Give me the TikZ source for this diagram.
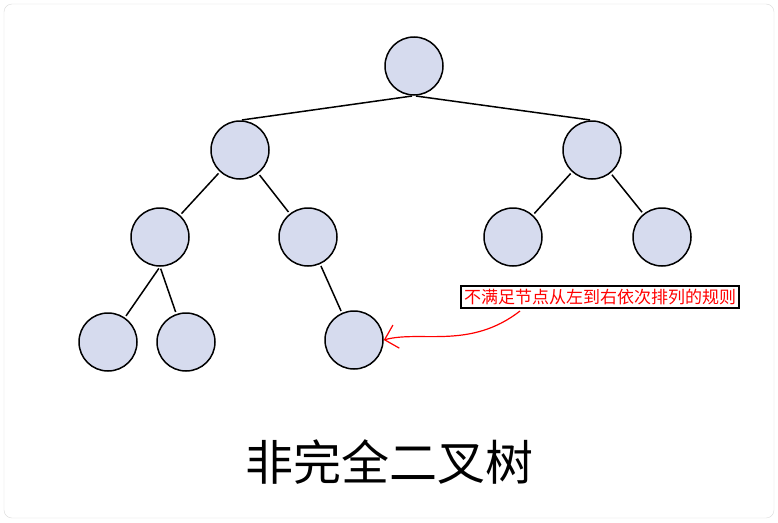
\documentclass[tikz,border=0pt]{standalone}
\usepackage{fontspec}
\setmainfont{Noto Sans CJK SC}
\usetikzlibrary{arrows.meta}
\definecolor{nodefill}{RGB}{214,219,238}
\begin{document}
\begin{tikzpicture}[x=1pt,y=-1pt,
    treenode/.style={draw, circle, line width=1.5pt, fill=nodefill, minimum size=58pt, inner sep=0pt},
    branch/.style={draw, line width=1.5pt, shorten <=2pt, shorten >=2pt}]
    \useasboundingbox (0,0) rectangle (778,522);
    \draw[gray!30, rounded corners=8pt] (4,4) rectangle (774,518);

    \node[treenode] (root) at (414,66) {};
    \node[treenode] (l) at (240,150) {};
    \node[treenode] (r) at (592,150) {};
    \node[treenode] (ll) at (160,237) {};
    \node[treenode] (lr) at (308,237) {};
    \node[treenode] (rl) at (513,237) {};
    \node[treenode] (rr) at (662,237) {};
    \node[treenode] (lll) at (108,342) {};
    \node[treenode] (llr) at (186,342) {};
    \node[treenode] (lrl) at (354,340) {};

    \draw[branch] (root.south) -- (l.north);
    \draw[branch] (root.south) -- (r.north);
    \draw[branch] (l) -- (ll);
    \draw[branch] (l) -- (lr);
    \draw[branch] (r) -- (rl);
    \draw[branch] (r) -- (rr);
    \draw[branch] (ll.south) -- (lll);
    \draw[branch] (ll.south) -- (llr);
    \draw[branch] (lr) -- (lrl);

    % annotation
    \node[draw, line width=1.5pt, fill=white, text=red, font=\fontsize{17}{20}\selectfont, inner sep=3pt] (note) at (600,297) {不满足节点从左到右依次排列的规则};
    \draw[red, line width=1.2pt, -{Straight Barb[length=12pt]}] (520,311) .. controls (470,350) and (420,330) .. (lrl.east);

    \node[font=\fontsize{48}{54}\selectfont] (title) at (389,462) {非完全二叉树};
\end{tikzpicture}
\end{document}
